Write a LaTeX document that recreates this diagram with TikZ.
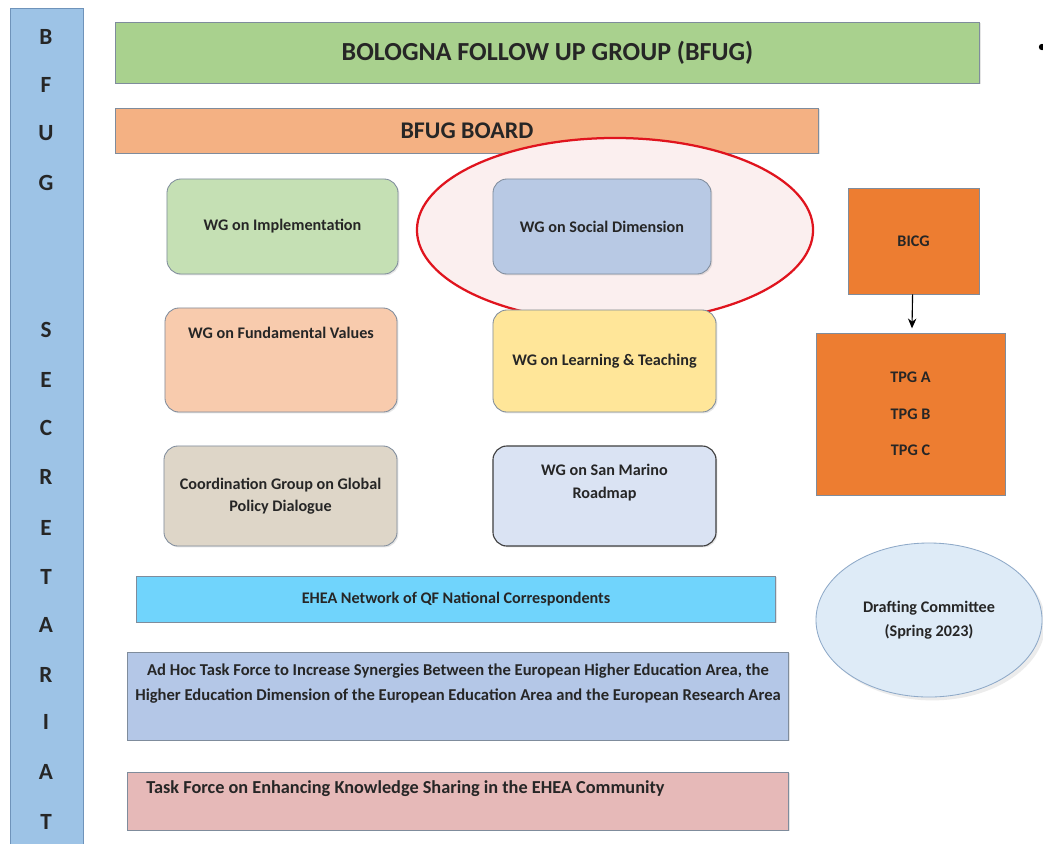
\documentclass[tikz,border=0pt]{standalone}
\usepackage{fontspec}
\setmainfont{Carlito}
\usetikzlibrary{shapes.geometric,arrows.meta,shadows}

\definecolor{secfill}{HTML}{9DC3E6}
\definecolor{secline}{HTML}{6F93BA}
\definecolor{bfugfill}{HTML}{A9D18E}
\definecolor{boardfill}{HTML}{F4B183}
\definecolor{implfill}{HTML}{C5E0B4}
\definecolor{socialfill}{HTML}{B8C9E4}
\definecolor{ringfill}{HTML}{FBEFEF}
\definecolor{ringline}{HTML}{E0141E}
\definecolor{bicgfill}{HTML}{ED7D31}
\definecolor{fundfill}{HTML}{F8CBAD}
\definecolor{learnfill}{HTML}{FFE699}
\definecolor{coordfill}{HTML}{DED6C8}
\definecolor{sanmfill}{HTML}{DAE3F3}
\definecolor{eheafill}{HTML}{70D4FC}
\definecolor{adhocfill}{HTML}{B4C7E7}
\definecolor{taskfill}{HTML}{E6B9B8}
\definecolor{draftfill}{HTML}{DEEBF7}
\definecolor{draftline}{HTML}{8EA9C8}
\definecolor{boxline}{HTML}{7F8C9C}
\definecolor{textgray}{HTML}{262626}

\begin{document}
\begin{tikzpicture}[x=0.025cm, y=-0.025cm,
    every node/.style={text=textgray, font=\bfseries\fontsize{11.5}{14}\selectfont},
    bar/.style={rectangle, draw=boxline, semithick, inner sep=0pt,
      drop shadow={shadow xshift=1pt, shadow yshift=-1pt, opacity=0.2}},
    wg/.style={bar, rounded corners=0.35cm, align=center},
    letter/.style={font=\bfseries\fontsize{16.5}{18}\selectfont},
    orangebox/.style={bar, fill=bicgfill, draw=boxline},
    ring/.style={draw=ringline, line width=1.6pt, fill=ringfill}]
   \useasboundingbox (0,0) rectangle (1043,843);
   \clip (0,0) rectangle (1043,843);
   \fill[white] (0,0) rectangle (1043,843);

   % secretariat column
   \draw[secline, fill=secfill, semithick] (10,8) rectangle (83,860);
   \node[letter] (s1) at (46,37) {B};
   \node[letter] (s2) at (46,85) {F};
   \node[letter] (s3) at (46,133) {U};
   \node[letter] (s4) at (46,183) {G};
   \node[letter] (s5) at (46,330) {S};
   \node[letter] (s6) at (46,380) {E};
   \node[letter] (s7) at (46,428) {C};
   \node[letter] (s8) at (46,477) {R};
   \node[letter] (s9) at (46,528) {E};
   \node[letter] (s10) at (46,577) {T};
   \node[letter] (s11) at (46,625) {A};
   \node[letter] (s12) at (46,675) {R};
   \node[letter] (s13) at (46,722) {I};
   \node[letter] (s14) at (46,772) {A};
   \node[letter] (s15) at (46,822) {T};

   % top bars
   \node[bar, fill=bfugfill, minimum width=21.575cm, minimum height=1.525cm,
     font=\bfseries\fontsize{18.5}{20}\selectfont] (bfug) at (547.5,52.5) {BOLOGNA FOLLOW UP GROUP (BFUG)};
   \node[bar, fill=boardfill, minimum width=17.55cm, minimum height=1.125cm,
     font=\bfseries\fontsize{17}{19}\selectfont] (board) at (467,130.5) {BFUG BOARD};

   % working groups
   \node[wg, fill=implfill, minimum width=5.775cm, minimum height=2.375cm] (impl) at (282.5,226.5) {WG on Implementation};
   \draw[ring] (615,230) ellipse [x radius=4.95cm, y radius=2.3cm];
   \node[wg, fill=socialfill, minimum width=5.45cm, minimum height=2.375cm] (social) at (602,226.5) {WG on Social Dimension};
   \node[wg, fill=fundfill, minimum width=5.8cm, minimum height=2.6cm,
     label={[yshift=-0.9cm]north:WG on Fundamental Values}] (fund) at (281,360) {};
   \node[wg, fill=learnfill, minimum width=5.575cm, minimum height=2.55cm] (learn) at (604.5,361) {WG on Learning \& Teaching};
   \node[wg, fill=coordfill, minimum width=5.825cm, minimum height=2.5cm] (coord) at (280.5,496) {Coordination Group on Global\\[2pt]Policy Dialogue};
   \node[wg, fill=sanmfill, draw=black!75, thick, minimum width=5.575cm, minimum height=2.5cm,
     label={[align=center, yshift=0.33cm]center:WG on San Marino\\[2pt]Roadmap}] (sanm) at (604.5,496) {};

   % BICG and TPGs
   \node[orangebox, minimum width=3.275cm, minimum height=2.65cm] (bicg) at (913.5,241) {BICG};
   \node[orangebox, minimum width=4.725cm, minimum height=4.05cm, align=center] (tpg) at (910.5,414)
     {TPG A\\[12pt]TPG B\\[12pt]TPG C};
   \draw[-{Stealth[length=7pt, width=6pt]}, thick, shorten >=3pt] (bicg) -- (tpg);

   % wide bars
   \node[bar, fill=eheafill, minimum width=15.95cm, minimum height=1.15cm] (ehea) at (456,599) {EHEA Network of QF National Correspondents};
   \node[bar, fill=adhocfill, minimum width=16.5cm, minimum height=2.2cm, align=center,
     font=\bfseries\fontsize{11.8}{14}\selectfont] (adhoc) at (458,696)
     {Ad Hoc Task Force to Increase Synergies Between the European Higher Education Area, the\\[4pt]Higher Education Dimension of the European Education Area and the European Research Area\\[6pt]};
   \node[bar, fill=taskfill, minimum width=16.5cm, minimum height=1.45cm,
     label={[anchor=west, xshift=0.35cm, yshift=0.3cm, font=\bfseries\fontsize{13}{15}\selectfont]west:Task Force on Enhancing Knowledge Sharing in the EHEA Community}] (task) at (458,801) {};

   % drafting committee
   \node[ellipse, draw=draftline, semithick, fill=draftfill, minimum width=5.65cm, minimum height=3.85cm,
     align=center, drop shadow={opacity=0.15}] (draft) at (929,620) {Drafting Committee\\[3pt](Spring 2023)};

   \fill[black] (1042,47) circle [radius=0.08cm];
\end{tikzpicture}
\end{document}
